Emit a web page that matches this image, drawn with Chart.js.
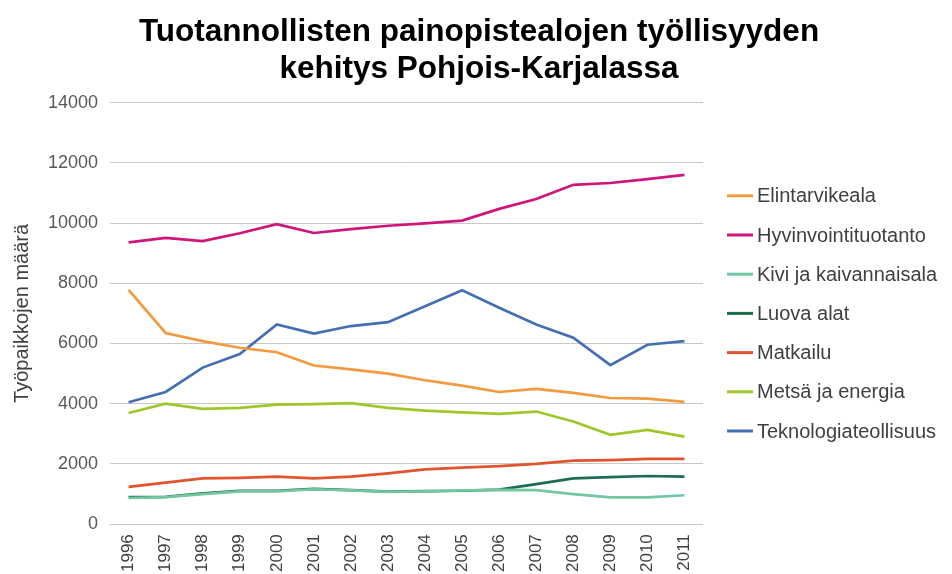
<!DOCTYPE html>
<html>
<head>
<meta charset="utf-8">
<script src="https://cdn.jsdelivr.net/npm/chart.js@4/dist/chart.umd.min.js"></script>
<style>
html,body{margin:0;padding:0;background:#fff;}
#wrap{width:952px;height:574px;}
</style>
</head>
<body>
<div id="wrap"><canvas id="c" width="952" height="574"></canvas></div>
<script>
const years = ["1996","1997","1998","1999","2000","2001","2002","2003","2004","2005","2006","2007","2008","2009","2010","2011"];
const elintarvikeala = [7780,6350,6080,5860,5710,5270,5140,5000,4780,4600,4390,4490,4360,4190,4170,4060];
const hyvinvointituotanto = [9360,9510,9400,9660,9960,9670,9800,9910,9990,10080,10470,10800,11270,11330,11460,11600];
const kiviJaKaivannaisala = [870,900,1000,1090,1090,1160,1120,1070,1090,1120,1140,1130,1000,890,890,960];
const luovaAlat = [900,910,1020,1110,1110,1170,1130,1080,1100,1110,1150,1330,1520,1560,1600,1580];
const matkailu = [1240,1380,1520,1540,1580,1520,1580,1690,1820,1880,1930,2000,2110,2130,2170,2170];
const metsaJaEnergia = [3690,4000,3830,3860,3970,3990,4020,3860,3770,3710,3660,3740,3410,2970,3130,2910];
const teknologiateollisuus = [4050,4390,5200,5650,6630,6330,6580,6710,7240,7770,7190,6630,6190,5280,5960,6080];
const yTicks = [0,2000,4000,6000,8000,10000,12000,14000];

const series = [
  ["Elintarvikeala", elintarvikeala, "#F39A3F"],
  ["Hyvinvointituotanto", hyvinvointituotanto, "#D0157A"],
  ["Kivi ja kaivannaisala", kiviJaKaivannaisala, "#72C7A2"],
  ["Luova alat", luovaAlat, "#1E6E4D"],
  ["Matkailu", matkailu, "#E2542F"],
  ["Metsä ja energia", metsaJaEnergia, "#9CC82C"],
  ["Teknologiateollisuus", teknologiateollisuus, "#4470B3"]
];
const FONT = "'Liberation Sans', Arial, sans-serif";

// Legend drawn beside the plot area, using the chart's own dataset labels and colours
const sideLegend = {
  id: 'sideLegend',
  afterDraw(chart) {
    const ctx = chart.ctx, area = chart.chartArea;
    const ds = chart.data.datasets;
    const rowGap = 39.2;
    const mid = (area.top + area.bottom) / 2;
    const y0 = mid - rowGap * (ds.length - 1) / 2;
    const xBox = area.right + 24;
    ctx.save();
    ctx.font = "20px " + FONT;
    ctx.textBaseline = 'middle';
    ctx.textAlign = 'left';
    ds.forEach((d, i) => {
      const y = y0 + i * rowGap;
      ctx.fillStyle = d.borderColor;
      ctx.fillRect(xBox, y - 1.5, 26, 3);
      ctx.fillStyle = "#404040";
      ctx.fillText(d.label, xBox + 30, y + 1);
    });
    ctx.restore();
  }
};

new Chart(document.getElementById('c'), {
  type: 'line',
  data: {
    labels: years,
    datasets: series.map(s => ({
      label: s[0], data: s[1], borderColor: s[2], backgroundColor: s[2],
      borderWidth: 2.7, pointRadius: 0, tension: 0, fill: false
    }))
  },
  plugins: [sideLegend],
  options: {
    responsive: false,
    animation: false,
    devicePixelRatio: 1,
    layout: { padding: { left: 10, right: 4, top: 13, bottom: -8 } },
    plugins: {
      title: {
        display: true,
        text: ["Tuotannollisten painopistealojen työllisyyden", "kehitys Pohjois-Karjalassa"],
        color: "#000",
        font: { family: FONT, size: 31.5, weight: 'bold', lineHeight: 1.2 },
        padding: { top: 0, bottom: 14 }
      },
      legend: { display: false },
      tooltip: { enabled: false }
    },
    scales: {
      x: {
        offset: true,
        grid: { display: false, drawTicks: false },
        border: { display: false },
        ticks: {
          color: "#404040",
          font: { family: FONT, size: 17 },
          maxRotation: 90, minRotation: 90, autoSkip: false, padding: 10
        }
      },
      y: {
        min: 0, max: 14000,
        afterBuildTicks: ax => { ax.ticks = yTicks.map(v => ({ value: v })); },
        grid: { color: "#C8C8C8", drawTicks: false, lineWidth: 1 },
        border: { display: false },
        ticks: {
          color: "#595959",
          font: { family: FONT, size: 18 },
          padding: 12,
          callback: v => String(v)
        },
        title: {
          display: true,
          text: "Työpaikkojen määrä",
          color: "#404040",
          font: { family: FONT, size: 20 },
          padding: { top: 0, bottom: 2 }
        }
      },
      legendSpace: {
        position: 'right',
        display: true,
        grid: { display: false, drawTicks: false },
        border: { display: false },
        ticks: { display: false },
        afterFit: s => { s.width = 245; }
      }
    }
  }
});
</script>
</body>
</html>
